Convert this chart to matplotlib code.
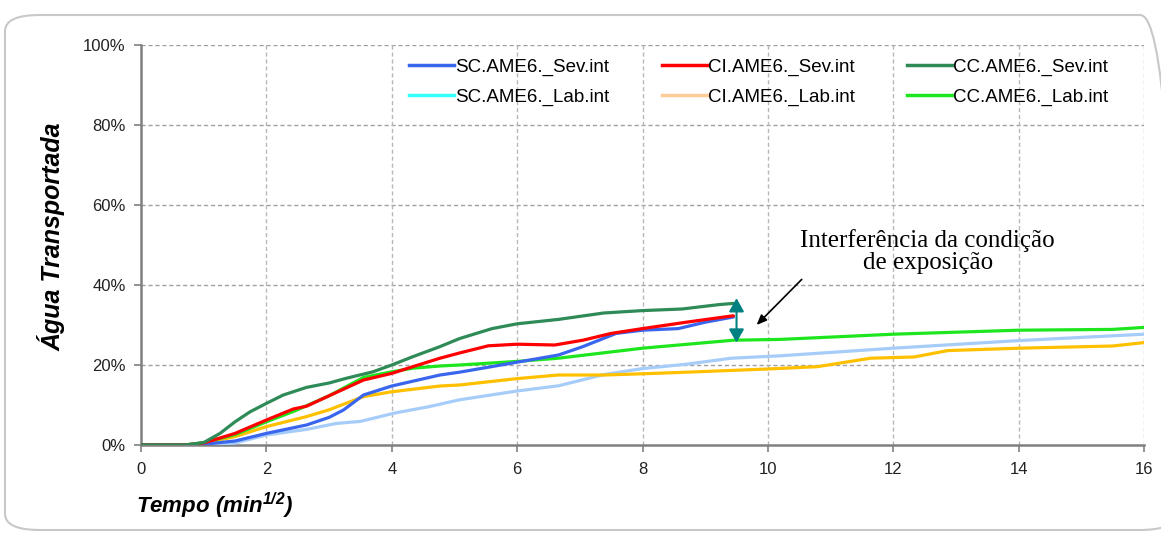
import matplotlib
matplotlib.use("Agg")
import matplotlib.pyplot as plt
from matplotlib.lines import Line2D
from matplotlib.patches import FancyBboxPatch
from matplotlib.ticker import FuncFormatter

# ---- data (x = Tempo in min^1/2, y = Água Transportada in %) ----
sc_sev_x = [0, 0.7, 1.0, 1.5, 2.0, 2.64, 3.0, 3.23, 3.55, 4.0, 4.77, 5.08, 6.0, 6.66, 7.05, 7.58, 8.0, 8.57, 9.0, 9.45]
sc_sev_y = [0, 0, 0.2, 1.0, 2.9, 5.0, 6.9, 8.75, 12.5, 14.75, 17.5, 18.2, 20.7, 22.5, 24.6, 27.9, 28.7, 29.1, 30.7, 32.0]

ci_sev_x = [0, 0.7, 1.0, 1.5, 2.0, 2.43, 2.64, 3.0, 3.55, 4.0, 4.34, 4.77, 5.08, 5.54, 6.0, 6.6, 7.05, 7.5, 8.0, 8.7, 9.3, 9.45]
ci_sev_y = [0, 0, 0.5, 2.9, 6.25, 9.0, 9.7, 12.3, 16.25, 17.9, 19.6, 21.7, 23.0, 24.8, 25.2, 25.0, 26.2, 27.9, 29.1, 30.7, 32.0, 32.3]

cc_sev_x = [0, 0.7, 1.0, 1.26, 1.5, 1.74, 2.0, 2.27, 2.64, 3.0, 3.28, 3.7, 4.0, 4.34, 4.77, 5.08, 5.6, 6.0, 6.66, 7.38, 8.0, 8.63, 9.22, 9.45]
cc_sev_y = [0, 0, 0.6, 2.9, 5.8, 8.3, 10.4, 12.5, 14.4, 15.5, 16.7, 18.3, 20.0, 22.1, 24.6, 26.6, 29.1, 30.3, 31.4, 33.0, 33.6, 34.0, 35.1, 35.4]

sc_lab_x = [0, 0.8, 1.13, 1.5, 2.0, 2.64, 3.12, 3.5, 4.05, 4.6, 5.08, 6.0, 6.66, 7.38, 8.0, 8.7, 9.42, 10.2, 12.0, 14.0, 16.0]
sc_lab_y = [0, 0, 0.1, 0.5, 2.5, 3.9, 5.4, 5.9, 8.0, 9.6, 11.3, 13.5, 14.8, 17.6, 19.1, 20.2, 21.7, 22.3, 24.2, 26.1, 27.7]

ci_lab_x = [0, 0.7, 1.0, 1.5, 2.0, 2.64, 3.0, 3.55, 4.0, 4.77, 5.08, 6.0, 6.66, 7.38, 8.0, 8.7, 10.0, 10.8, 11.2, 11.64, 12.33, 12.87, 14.0, 15.5, 16.0]
ci_lab_y = [0, 0, 0.4, 2.1, 4.6, 7.1, 8.8, 12.1, 13.3, 14.75, 15.0, 16.6, 17.5, 17.5, 17.8, 18.2, 19.0, 19.6, 20.6, 21.7, 22.0, 23.6, 24.2, 24.75, 25.6]

cc_lab_x = [0, 0.7, 1.0, 1.5, 2.0, 2.45, 3.0, 3.55, 4.0, 4.34, 4.77, 5.08, 6.0, 6.66, 8.0, 9.45, 10.2, 12.0, 14.0, 15.5, 16.0]
cc_lab_y = [0, 0, 0.6, 2.6, 5.8, 8.5, 12.3, 16.9, 18.3, 19.2, 19.75, 20.0, 20.9, 21.7, 24.2, 26.2, 26.4, 27.7, 28.7, 28.9, 29.4]

labels = ["SC.AME6._Sev.int", "CI.AME6._Sev.int", "CC.AME6._Sev.int",
          "SC.AME6._Lab.int", "CI.AME6._Lab.int", "CC.AME6._Lab.int"]
x_ticks = [0, 2, 4, 6, 8, 10, 12, 14, 16]
y_ticks = [0, 20, 40, 60, 80, 100]

line_colors = ["#3a66ee", "#ff0000", "#2e8b57", "#a6cdf9", "#ffc000", "#1ee61e"]
legend_colors = ["#3a66ee", "#ff0000", "#2e8b57", "#33ffff", "#ffcc99", "#1ee61e"]

plt.rcParams['font.family'] = ['Liberation Sans', 'DejaVu Sans']
plt.rcParams['mathtext.fontset'] = 'custom'
plt.rcParams['mathtext.rm'] = 'Liberation Sans:bold:italic'
plt.rcParams['mathtext.it'] = 'Liberation Sans:bold:italic'
plt.rcParams['mathtext.bf'] = 'Liberation Sans:bold:italic'

fig = plt.figure(figsize=(11.61, 5.34), dpi=100)
ax = fig.add_axes([141/1161, 1-445/534, (1144-141)/1161, 400/534])

# rounded frame
frame = FancyBboxPatch((5/1161, 4/534), 1170/1161, 515/534,
                       boxstyle="round,pad=0,rounding_size=0.03",
                       transform=fig.transFigure, fill=False,
                       edgecolor="#c8c8c8", lw=1.5, mutation_aspect=534/1161*2.2)
fig.patches.append(frame)

series = [(sc_sev_x, sc_sev_y), (ci_sev_x, ci_sev_y), (cc_sev_x, cc_sev_y),
          (sc_lab_x, sc_lab_y), (ci_lab_x, ci_lab_y), (cc_lab_x, cc_lab_y)]
order = [3, 4, 5, 0, 1, 2]
for i in order:
    xs, ys = series[i]
    ax.plot(xs, ys, color=line_colors[i], lw=2.3, solid_capstyle='round',
            solid_joinstyle='round', zorder=3)

ax.set_xlim(0, 16)
ax.set_ylim(0, 100)
ax.set_xticks(x_ticks)
ax.set_yticks(y_ticks)
ax.yaxis.set_major_formatter(FuncFormatter(lambda v, p: f"{int(v)}%"))
ax.tick_params(axis='both', direction='out', length=5, width=1.2, color='#808080',
               labelsize=12, labelcolor='#222222')
ax.tick_params(axis='x', pad=7)
ax.tick_params(axis='y', pad=6)

for s in ['top', 'right']:
    ax.spines[s].set_visible(False)
for s in ['left', 'bottom']:
    ax.spines[s].set_color('#808080')
    ax.spines[s].set_linewidth(1.8)

for yv in y_ticks[1:]:
    ax.axhline(yv, color='#a0a0a0', lw=1, ls=(0, (3, 2)), zorder=1)
for xv in x_ticks[1:]:
    ax.axvline(xv, color='#b8b8b8', lw=1, ls=(0, (3, 2)), zorder=1)

# legend
handles = [Line2D([], [], color=legend_colors[i], lw=2.5) for i in range(6)]
leg_order = [0, 3, 1, 4, 2, 5]
ax.legend([handles[i] for i in leg_order], [labels[i] for i in leg_order],
          ncol=3, loc='upper left', bbox_to_anchor=(268/1003, 0.966),
          frameon=False, fontsize=13.5, handlelength=2.4, handletextpad=0.05,
          columnspacing=2.8, labelspacing=0.68, borderaxespad=0, borderpad=0)

# double-headed teal arrow
ax.annotate("", xy=(9.5, 36.7), xytext=(9.5, 25.6),
            arrowprops=dict(arrowstyle="<|-|>,head_width=0.45,head_length=0.8",
                            color="#008080", lw=1.5, shrinkA=0, shrinkB=0), zorder=5)
# black arrow with annotation text
ax.annotate("", xy=(9.82, 30.0), xytext=(10.54, 41.4),
            arrowprops=dict(arrowstyle="-|>,head_width=0.25,head_length=0.6",
                            color="black", lw=1.2, shrinkA=0, shrinkB=0), zorder=5)
ax.text(12.55, 48.3, "Interferência da condição\nde exposição", ha='center', va='center',
        fontsize=18, family=['Liberation Serif', 'DejaVu Serif'], linespacing=0.98)

# axis labels
fig.text(52/1161, 1-237/534, "Água Transportada", rotation=90, ha='center', va='center',
         fontsize=18, fontweight='bold', fontstyle='italic')
fig.text(136/1161, 1-506/534, r"Tempo (min$^{1/2}$)", ha='left', va='center',
         fontsize=16, fontweight='bold', fontstyle='italic')

fig.savefig("out.png", dpi=100)
